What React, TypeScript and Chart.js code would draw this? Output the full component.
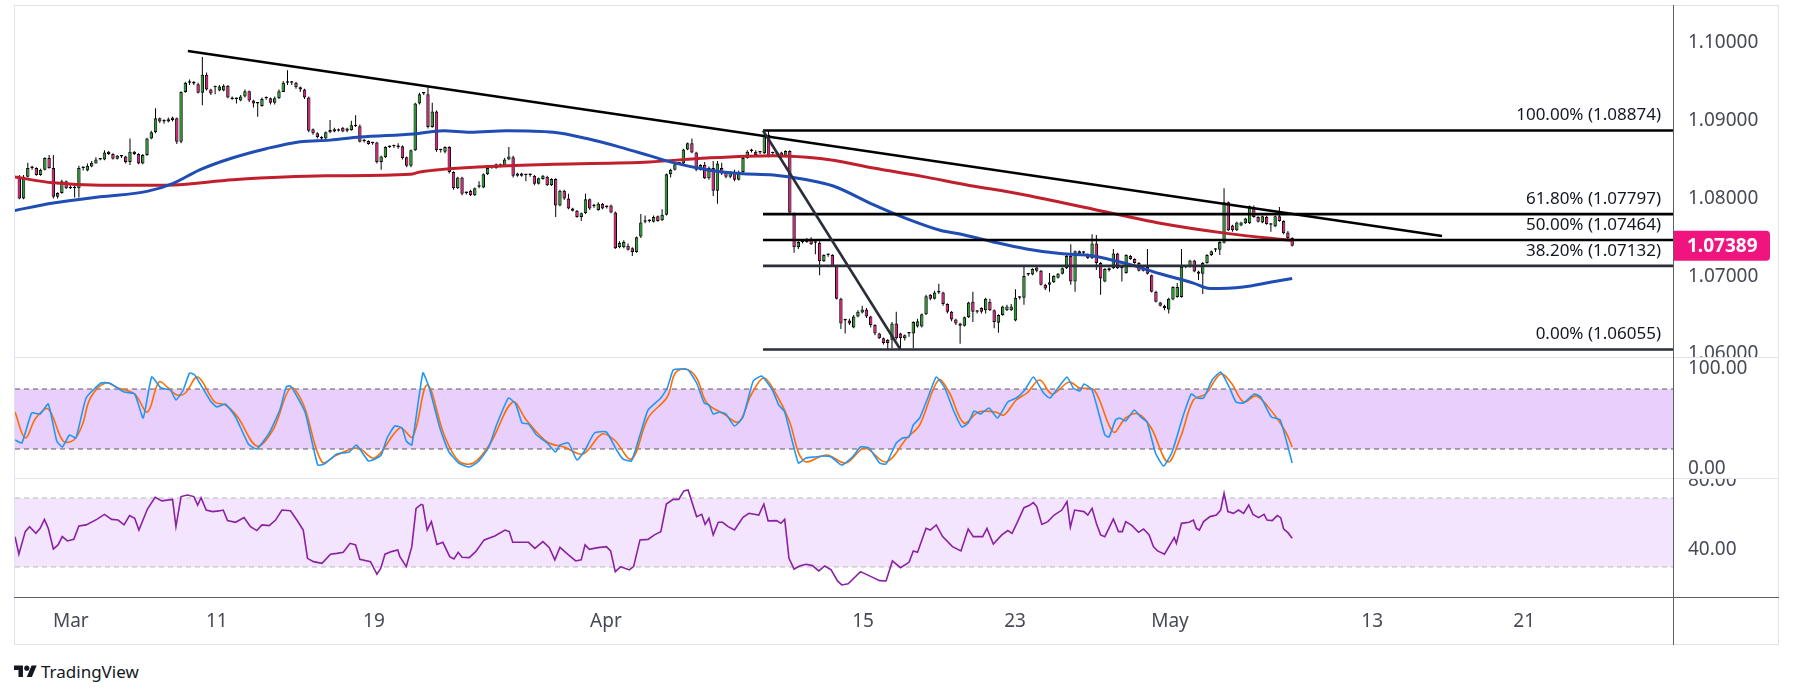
import React, { useEffect, useRef } from "react";
import { Chart, registerables } from "chart.js";

Chart.register(...registerables);

const FAMILY = '"Noto Sans", "DejaVu Sans", sans-serif';
const AXIS_TEXT = "#474a55";
const UP = "#22a02a";
const DOWN = "#ee1680";
const TAG = "#f0147e";
const AXIS_W = 105;

// x units = 4H candle slots (0 = first candle on the chart)
const X_MIN = -1.01;
const X_MAX = 388.46;
const xTickPos = [12.1, 46.4, 83.3, 137.8, 198.2, 233.9, 270.3, 317.8, 353.5];
const xTickLabels = ["Mar", "11", "19", "Apr", "15", "23", "May", "13", "21"];

// EURUSD 4H candles, in pips above 1.0000 (price = 1 + v / 10000)
const opens = [
  828,800,828,839,839,830,837,852,839,802, 807,822,813,813,813,839,836,841,845,850,
  850,860,857,851,854,854,847,860,857,845, 856,877,885,903,899,899,904,903,873,937,
  949,948,947,936,959,940,943,939,939,945, 930,928,926,931,938,926,922,919,929,929,
  923,929,937,949,949,949,943,940,930,889, 884,877,877,885,886,887,891,887,888,894,
  893,874,874,871,872,847,853,866,867,867, 867,853,842,862,922,935,934,892,912,862,
  860,866,834,813,827,807,810,804,815,814, 831,841,839,844,842,850,853,829,832,830,
  830,829,819,825,828,817,825,791,810,800, 787,784,776,781,799,790,785,793,789,791,
  782,737,737,739,736,731,751,770,771,770, 777,772,779,831,837,845,845,863,871,859,
  837,843,826,839,810,839,834,828,834,824, 834,852,861,860,859,858,882,858,857,859,
  854,861,781,737,744,744,747,743,743,719, 727,727,713,671,643,643,634,648,653,657,
  648,637,626,620,618,618,639,626,620,626, 626,635,635,651,676,671,679,679,664,654,
  644,639,636,647,667,654,659,656,667,656, 640,650,656,656,643,672,672,702,702,711,
  707,689,689,692,698,703,710,726,693,732, 730,728,723,742,717,693,708,710,729,710,
  704,726,722,717,707,712,701,680,666,662, 657,670,673,673,712,712,720,706,703,717,
  727,734,734,743,795,765,759,765,768,768, 789,776,769,776,766,764,777,771,756,749,
];
const highs = [
  830,830,846,842,840,838,853,856,856,808, 824,823,817,817,842,841,845,848,853,852,
  862,861,858,856,856,855,877,861,858,857, 878,887,916,904,902,904,905,904,938,950,
  953,951,949,982,962,941,945,946,947,946, 931,930,933,940,939,927,924,930,931,930,
  931,940,951,965,951,950,944,941,931,890, 885,880,886,901,891,890,892,891,900,907,
  895,876,875,873,873,855,867,868,869,871, 868,854,863,923,936,937,944,923,913,864,
  867,867,835,828,828,809,811,814,822,832, 840,843,845,845,852,866,855,833,833,831,
  832,830,827,830,829,826,826,811,811,806, 788,785,782,806,800,793,795,794,791,792,
  783,745,746,742,737,751,780,778,773,778, 778,786,832,838,845,847,864,872,877,860,
  844,847,841,848,848,846,835,835,837,836, 854,862,864,862,860,888,887,860,860,860,
  862,862,782,745,746,749,750,745,745,728, 729,728,714,672,645,645,650,656,662,659,
  649,638,627,621,619,641,654,627,625,628, 642,645,652,676,677,681,690,680,665,655,
  645,640,648,667,680,656,660,672,671,657, 651,662,663,664,683,674,712,704,710,712,
  708,690,704,701,704,711,727,741,733,733, 732,729,754,753,718,710,711,735,730,712,
  728,727,723,718,712,735,702,681,667,663, 672,687,691,735,714,721,721,707,718,728,
  733,736,745,813,796,766,770,770,775,791, 791,777,778,778,768,778,789,772,758,750,
];
const lows = [
  799,799,827,837,829,829,836,838,800,800, 806,812,812,801,801,836,835,840,845,849,
  849,856,850,850,852,845,843,856,844,844, 855,876,884,897,896,898,899,870,871,936,
  946,946,935,920,939,933,934,938,938,929, 927,922,925,930,924,917,905,918,927,921,
  921,928,937,946,946,941,937,928,885,882, 877,875,876,884,885,886,885,885,887,892,
  872,872,869,869,845,837,852,865,865,864, 850,840,840,861,921,933,890,891,860,859,
  858,832,811,812,804,805,803,803,813,813, 830,838,838,840,841,849,827,828,828,822,
  828,817,818,824,816,816,776,790,798,786, 783,775,771,780,785,788,784,786,787,781,
  735,736,736,733,726,730,749,768,769,769, 770,771,778,827,836,843,844,862,858,835,
  836,825,824,803,793,830,826,826,822,823, 833,851,859,855,857,857,853,854,856,852,
  853,780,730,735,742,743,740,728,701,718, 725,712,670,632,626,637,633,647,652,646,
  634,624,619,612,606,607,618,605,617,622, 607,634,634,650,669,670,677,662,652,642,
  637,613,635,646,641,652,652,652,655,633, 627,649,655,655,642,670,663,700,701,705,
  688,682,680,691,697,702,709,689,680,728, 728,722,722,708,676,692,706,709,709,693,
  703,721,716,706,706,702,679,666,661,656, 652,669,672,672,710,711,705,695,677,716,
  726,731,727,742,758,757,758,764,767,767, 775,769,768,766,757,763,770,754,748,738,
];
const closes = [
  800,828,839,839,830,837,852,839,802,807, 822,813,815,815,839,839,842,846,850,850,
  859,857,851,855,854,847,860,857,845,856, 877,885,903,899,899,902,901,873,937,949,
  949,948,936,959,940,935,943,944,945,930, 928,928,931,938,926,922,922,928,929,923,
  929,938,949,949,949,943,940,930,887,884, 879,878,885,888,889,888,886,890,894,893,
  873,874,870,872,847,854,866,867,867,866, 852,842,862,922,934,935,892,912,862,862,
  866,834,813,827,806,807,804,813,815,831, 839,841,844,842,850,854,829,832,829,830,
  830,819,826,829,817,825,791,810,800,787, 784,776,781,799,787,790,793,787,789,782,
  736,743,744,734,731,750,769,770,771,776, 771,779,831,837,844,845,863,871,859,837,
  843,826,839,810,845,832,828,833,824,834, 852,860,861,856,859,882,855,858,859,854,
  861,782,737,744,744,747,741,743,719,727, 727,713,671,639,643,639,648,654,657,648,
  637,626,620,614,614,639,620,620,624,626, 641,642,651,674,671,679,679,664,654,644,
  639,636,647,666,654,654,654,671,656,641, 650,661,661,661,672,672,700,702,709,707,
  689,684,692,700,703,710,726,693,732,729, 730,723,742,717,697,709,710,729,710,710,
  727,722,717,707,711,703,680,667,662,659, 671,686,686,712,712,720,706,703,717,727,
  732,734,744,795,759,759,769,769,774,790, 776,770,777,767,767,777,771,755,749,739,
];

// Moving averages (pips above 1.0000), read at vertices
const blueMaX = [-1.5, 8, 19, 30, 36, 42.5, 50, 58, 66, 73, 80, 92.6, 99.6, 105.9, 114.5, 125.5, 133.3, 141.1, 148, 153.6, 161.5, 169.3, 177.1, 185, 191.2, 200.6, 208.4, 216.3, 222, 228.8, 236.6, 244.5, 252.3, 260.1, 268, 275.8, 279.7, 287.5, 293.8, 299];
const blueMa = [784, 794, 802, 809, 819, 837, 852, 864, 873, 875, 879, 883, 887, 885, 887, 885, 877, 866, 855, 846, 837, 832, 830, 824, 816, 792, 774, 759, 753, 744, 735, 729, 726, 716, 703, 691, 684, 686, 692, 697];
const redMaX = [-1.5, 8, 19, 34.6, 50.3, 72, 91.8, 94.1, 109.8, 125.5, 148, 161.5, 177.1, 185, 191.2, 200.6, 212.4, 222, 236.6, 252.3, 268, 283.6, 299];
const redMa = [828, 820, 817, 817, 824, 829, 831, 834, 841, 844, 847, 852, 855, 853, 849, 839, 828, 818, 804, 786, 768, 755, 746];

// Trend lines [x, price]
const trendMainX = [39.6, 334.2];
const trendMainY = [1.09897, 1.07516];
const trendSteepX = [174.7, 206.9];
const trendSteepY = [1.08874, 1.06062];

// Fibonacci retracement
const fibStartX = 174.7;
const fibLevels = [1.08874, 1.07797, 1.07464, 1.07132, 1.06055];
const fibPct = [100, 61.8, 50, 38.2, 0];
const fibColors = ["#000000", "#000000", "#000000", "#2a2e39", "#2a2e39"];
const lastPrice = 1.07389;

const priceTicks = [1.06, 1.07, 1.08, 1.09, 1.1];
const stochTicks = [0, 100];
const rsiTicks = [40, 80];

// Stochastic %K / %D
const stochKX = [-1, 0.6, 2.9, 4.9, 6.8, 8.8, 10.1, 11.8, 13.3, 15.7, 19.2, 21.2, 24.6, 27.1, 29.1, 31.1, 33.3, 35.5, 36.8, 38.5, 40, 41.2, 44.9, 46.4, 48.4, 50.8, 53.8, 55.8, 58.7, 61.2, 62.7, 63.7, 65.7, 67.2, 70.1, 71.6, 74.6, 77.5, 79.2, 82, 83.5, 85, 86.4, 88.2, 89.9, 90.9, 92.2, 94.8, 96.3, 98.8, 100.8, 103.2, 105.7, 107.7, 110.2, 112.1, 114.9, 116.6, 118.1, 119.6, 121.5, 124, 126, 127, 129, 131, 132.9, 135.1, 137.9, 140.3, 141.8, 143.8, 145.8, 147.7, 150.7, 152.2, 153.6, 155.1, 157.1, 159.1, 160.9, 162, 163, 164.5, 166, 168, 170, 172.4, 174.4, 176.9, 178.4, 179.8, 183, 184.8, 186.8, 188.7, 190.7, 193.2, 195.7, 197.6, 199.6, 202.1, 203.6, 206, 207.5, 209, 210, 211.5, 213.5, 215.4, 217.4, 219.4, 221.4, 222.9, 224.3, 225.8, 227.8, 229.8, 232.2, 234.2, 236.2, 238.2, 240.6, 242.1, 246.1, 247.6, 249.1, 250.1, 252, 255, 256, 257.5, 258.5, 259.9, 261.9, 263.4, 264.9, 266.9, 268.8, 270.8, 273.3, 275.3, 276.7, 278.2, 280.2, 282.2, 284.2, 285.8, 287.6, 290.1, 291.6, 294.1, 296.2, 299];
const stochK = [29, 26, 56, 55, 65, 28, 22, 34, 31, 71, 86, 86, 77, 75, 51, 92, 81, 79, 69, 79, 96, 94, 68, 62, 65, 52, 25, 20, 36, 59, 82, 83, 69, 56, 4, 5, 15, 17, 24, 8, 10, 14, 31, 43, 41, 28, 24, 96, 81, 41, 18, 6, 2, 7, 21, 44, 71, 65, 46, 45, 34, 26, 17, 24, 26, 9, 19, 36, 37, 19, 10, 8, 34, 59, 71, 81, 99, 100, 99, 86, 66, 64, 55, 57, 55, 43, 52, 88, 93, 79, 64, 57, 6, 11, 12, 13, 12, 4, 12, 22, 21, 6, 5, 26, 31, 32, 44, 51, 72, 92, 81, 59, 42, 46, 58, 55, 61, 51, 67, 71, 79, 92, 76, 71, 92, 81, 78, 85, 79, 34, 32, 49, 51, 48, 59, 52, 47, 16, 3, 17, 52, 75, 71, 71, 89, 97, 82, 67, 66, 75, 72, 52, 49, 6];
const stochDX = [-1, 1.4, 3.9, 6.8, 10.3, 12.8, 14.8, 16.7, 20.2, 23.2, 27.1, 30.1, 32.8, 35, 37, 39, 41.9, 45.9, 48.4, 51.3, 55.8, 59.7, 63.7, 66.7, 71.1, 74.6, 79.5, 83.5, 89.4, 92.4, 95.8, 99.8, 103.2, 106.7, 110.7, 115.9, 119.1, 124, 128, 132.4, 136.9, 139.8, 143.8, 147.7, 152.2, 154.1, 156.6, 159.1, 161.5, 165.5, 169, 171.9, 174.9, 177.9, 180.8, 184.3, 189.7, 194.2, 198.6, 203.6, 208.5, 211.5, 215.9, 218.4, 221.9, 225.3, 229.3, 231.3, 234.2, 236.7, 239.7, 242.6, 246.6, 249.1, 252.5, 257, 259.9, 262.9, 265.9, 269.8, 272.8, 275.8, 278.7, 282.2, 284.7, 287.6, 290.6, 294.5, 297.5, 299];
const stochD = [57, 31, 51, 60, 28, 29, 44, 71, 86, 81, 75, 57, 87, 81, 74, 76, 92, 67, 64, 52, 23, 40, 81, 65, 7, 14, 21, 11, 41, 32, 84, 34, 8, 6, 26, 67, 49, 27, 22, 15, 35, 29, 10, 51, 72, 96, 100, 91, 66, 55, 47, 74, 91, 74, 49, 8, 14, 6, 21, 7, 31, 44, 89, 77, 46, 57, 57, 54, 69, 76, 89, 75, 87, 81, 79, 37, 51, 55, 41, 7, 32, 69, 75, 95, 86, 67, 73, 56, 37, 22];

// RSI
const rsiX = [-1, -0.1, 1.4, 2.4, 3.9, 4.9, 5.9, 6.8, 8, 9.1, 10.1, 11.3, 12.8, 14, 15.7, 18.2, 20, 21.7, 23.2, 24.6, 25.9, 27.1, 28.1, 30.1, 31.9, 33.5, 36, 36.8, 38, 39.5, 41, 41.9, 42.7, 43.9, 45.4, 46.9, 47.9, 48.9, 50.8, 52.8, 54.3, 55.8, 57, 58.7, 60.2, 61.7, 63.7, 65.2, 66.7, 67.7, 69.1, 71.1, 73.1, 74.6, 76.1, 77.7, 79, 80, 82.5, 84, 84.9, 85.9, 87.4, 88.9, 89.4, 90.9, 92.2, 93.2, 94.4, 94.8, 95.8, 96.8, 98.1, 99.5, 101.1, 102.1, 103.1, 104, 105.7, 107.2, 109.2, 111.7, 114.1, 115.1, 115.9, 119.6, 121.1, 123, 124.5, 125.8, 127, 129, 130.7, 132, 132.9, 133.9, 135.9, 137.9, 138.9, 140, 141.3, 143.3, 144.3, 145.8, 147.7, 149.2, 150.7, 152, 153.6, 154.9, 156.1, 157.1, 159.1, 160.3, 161.1, 162, 163, 164.2, 165.2, 166.5, 168, 170, 171.4, 173.7, 174.9, 175.9, 177.9, 178.9, 179.8, 180.8, 182, 183.3, 184.8, 186.3, 187.8, 189.2, 190.7, 192.2, 193.2, 194.7, 197.6, 200.1, 202.1, 203.6, 205.1, 207, 209, 210, 211, 213, 214, 215.4, 216.9, 219.2, 221.2, 222.9, 224.1, 226.3, 227.3, 228.8, 230.8, 232.2, 233.2, 234.4, 236, 237.2, 238.2, 239, 240.2, 241.6, 243.1, 244.9, 246.1, 246.9, 247.9, 250.1, 251, 252, 253, 254, 255, 257, 258.2, 259.1, 259.9, 261.4, 262.9, 264.1, 265.4, 266.4, 267.4, 269, 271.3, 271.8, 273, 274.8, 275.8, 276.5, 277.2, 278.2, 279.7, 281.2, 282.2, 283, 283.9, 285.2, 286.4, 287.6, 288.8, 289.8, 291.1, 292.4, 293.1, 294.3, 295.5, 296.3, 297, 298, 299];
const rsi = [47.6, 37.4, 50.5, 53.4, 49.5, 52.4, 57.6, 52.4, 40.4, 42.8, 47.6, 45.1, 46, 53.8, 54.4, 57.6, 60.5, 57.6, 57.2, 54.4, 59.8, 58.2, 51.4, 63.6, 70.4, 68.3, 69.2, 53.4, 70.8, 71.7, 70.8, 65.9, 70.2, 63, 62.1, 62.5, 63, 56.9, 55.9, 58.6, 53.4, 51.1, 54.4, 54, 57.2, 63, 62.6, 57.2, 51.4, 35, 33.1, 32.1, 37.4, 37.9, 38.5, 43.7, 42.8, 34.4, 33.1, 25.8, 29.2, 37.4, 38.9, 39.9, 36, 30.2, 41.8, 64, 66.3, 65.9, 51.4, 56.3, 43.1, 44.3, 36, 34.6, 38.5, 35.6, 35.4, 38.9, 45.7, 48, 51.4, 50.5, 44.3, 44.3, 40.8, 44.7, 41.2, 34.1, 41.4, 37, 33.5, 34.1, 42.8, 40.2, 41.2, 41.8, 39.3, 27.3, 30.2, 28.3, 30.2, 45.7, 46, 48.6, 50.5, 66.5, 69.2, 69.2, 74.1, 74.6, 59.2, 60.5, 54.7, 58.2, 48.6, 55.9, 55.9, 53.4, 51.4, 58.8, 61.1, 60.1, 66.5, 56.7, 56.9, 55.3, 57.6, 35, 28.8, 30.6, 31.6, 30.8, 27.7, 30.6, 28.3, 21.9, 19.6, 20.3, 27.3, 24.4, 22.1, 21.9, 33.5, 29.6, 32.7, 39.3, 38.5, 52.4, 51.4, 54.4, 47.6, 41.8, 39.3, 52, 47.6, 47.6, 52.4, 43.3, 48.6, 51.1, 49.5, 55.7, 64.4, 65.6, 67.3, 65, 54.7, 56.3, 60.1, 63, 67.9, 53, 63, 62.1, 60.1, 64, 55.3, 48.6, 47.6, 57.8, 50.5, 50.5, 56.3, 54, 50.1, 52, 48.6, 41.8, 39.3, 37.4, 47, 43.7, 55.3, 55.9, 57.2, 52.4, 51.4, 56.3, 59.2, 60.1, 63, 72.7, 62.1, 61.1, 63, 61.1, 65.9, 60.5, 58.6, 60.5, 57.2, 56.9, 59.8, 58.6, 52, 49.9, 46.6];

const toPrice = (v: number) => 1 + v / 10000;
const zip = (xs: number[], ys: number[], f: (v: number) => number = (v) => v) =>
  xs.slice(0, Math.min(xs.length, ys.length)).map((x, i) => ({ x, y: f(ys[i]) }));

function xScale(display: boolean) {
  return {
    type: "linear",
    min: X_MIN,
    max: X_MAX,
    offset: false,
    display,
    grid: { display: false, drawTicks: false },
    border: { display: false },
    afterBuildTicks: (s: any) => {
      s.ticks = xTickPos.map((v) => ({ value: v }));
    },
    afterFit: (s: any) => {
      if (display) s.height = 47;
      s.paddingLeft = 0;
      s.paddingRight = 0;
    },
    ticks: {
      autoSkip: false,
      maxRotation: 0,
      minRotation: 0,
      padding: 13,
      color: AXIS_TEXT,
      font: { family: FAMILY, size: 19 },
      callback: (_v: any, i: number) => xTickLabels[i],
    },
  };
}

function yScale(min: number, max: number, ticks: number[], digits: number) {
  return {
    position: "right",
    min,
    max,
    grid: { display: false, drawTicks: false },
    border: { display: false },
    afterBuildTicks: (s: any) => {
      s.ticks = ticks.map((v) => ({ value: v }));
    },
    afterFit: (s: any) => {
      s.width = AXIS_W;
      s.paddingTop = 0;
      s.paddingBottom = 0;
    },
    ticks: {
      autoSkip: false,
      padding: 15,
      color: AXIS_TEXT,
      font: { family: FAMILY, size: 19 },
      callback: (v: any) => Number(v).toFixed(digits),
    },
  };
}

const baseOptions = {
  responsive: false,
  maintainAspectRatio: false,
  animation: false,
  events: [],
  layout: { padding: 0 },
  plugins: { legend: { display: false }, tooltip: { enabled: false } },
};

const fibLabelPlugin = {
  id: "fibLabels",
  afterDatasetsDraw(chart: any) {
    const { ctx, chartArea, scales } = chart;
    ctx.save();
    ctx.font = `17px ${FAMILY}`;
    ctx.fillStyle = "#131722";
    ctx.textAlign = "right";
    ctx.textBaseline = "middle";
    fibLevels.forEach((lv, i) => {
      const y = scales.y.getPixelForValue(lv);
      ctx.fillText(`${fibPct[i].toFixed(2)}% (${lv.toFixed(5)})`, chartArea.right - 12, y - 15);
    });
    ctx.restore();
  },
};

const priceTagPlugin = {
  id: "priceTag",
  afterDraw(chart: any) {
    const { ctx, chartArea, scales } = chart;
    const y = scales.y.getPixelForValue(lastPrice);
    ctx.save();
    ctx.fillStyle = TAG;
    ctx.beginPath();
    if ((ctx as any).roundRect) (ctx as any).roundRect(chartArea.right, y - 15, 97, 30, [0, 4, 4, 0]);
    else ctx.rect(chartArea.right, y - 15, 97, 30);
    ctx.fill();
    ctx.fillStyle = "#ffffff";
    ctx.font = `bold 19px ${FAMILY}`;
    ctx.textAlign = "left";
    ctx.textBaseline = "middle";
    ctx.fillText(lastPrice.toFixed(5), chartArea.right + 14, y + 1);
    ctx.restore();
  },
};

function band(hi: number, lo: number, fillColor: string, dashColor: string) {
  return [
    {
      type: "line",
      data: [{ x: X_MIN, y: hi }, { x: X_MAX, y: hi }],
      borderColor: dashColor,
      borderWidth: 1,
      borderDash: [5, 4],
      pointRadius: 0,
      fill: "+1",
      backgroundColor: fillColor,
      order: 20,
    },
    {
      type: "line",
      data: [{ x: X_MIN, y: lo }, { x: X_MAX, y: lo }],
      borderColor: dashColor,
      borderWidth: 1,
      borderDash: [5, 4],
      pointRadius: 0,
      fill: false,
      order: 19,
    },
  ];
}

export default function App() {
  const priceRef = useRef<HTMLCanvasElement>(null);
  const stochRef = useRef<HTMLCanvasElement>(null);
  const rsiRef = useRef<HTMLCanvasElement>(null);

  useEffect(() => {
    Chart.defaults.font.family = FAMILY;
    const charts: Chart[] = [];

    const wickData = opens.map((_, i) => ({ x: i, y: [toPrice(lows[i]), toPrice(highs[i])] }));
    const bodyData = opens.map((o, i) => ({ x: i, y: [toPrice(o), toPrice(closes[i])] }));
    const bodyColors = opens.map((o, i) => (closes[i] >= o ? UP : DOWN));

    const fibSets = fibLevels.map((lv, i) => ({
      type: "line",
      data: [{ x: fibStartX, y: lv }, { x: X_MAX, y: lv }],
      borderColor: fibColors[i],
      borderWidth: 2.6,
      pointRadius: 0,
      order: 2,
    }));

    const pMax = 1.1 + 37 / 7770;
    const pMin = 1.1 - 314 / 7770;

    if (priceRef.current) {
      charts.push(
        new Chart(priceRef.current, {
          type: "bar",
          data: {
            datasets: [
              {
                type: "bar",
                data: wickData,
                backgroundColor: "#000000",
                barThickness: 1,
                grouped: false,
                minBarLength: 1,
                inflateAmount: 0,
                order: 10,
              },
              {
                type: "bar",
                data: bodyData,
                backgroundColor: bodyColors,
                borderColor: "#000000",
                borderWidth: 1,
                borderSkipped: false,
                barThickness: 3.4,
                grouped: false,
                minBarLength: 1.5,
                inflateAmount: 0,
                order: 9,
              },
              {
                type: "line",
                data: zip(redMaX, redMa, toPrice),
                borderColor: "#c0202c",
                borderWidth: 3,
                pointRadius: 0,
                cubicInterpolationMode: "monotone",
                order: 6,
              },
              {
                type: "line",
                data: zip(blueMaX, blueMa, toPrice),
                borderColor: "#1f4db3",
                borderWidth: 3,
                pointRadius: 0,
                cubicInterpolationMode: "monotone",
                order: 5,
              },
              ...fibSets,
              {
                type: "line",
                data: zip(trendSteepX, trendSteepY),
                borderColor: "#2a2e39",
                borderWidth: 2.6,
                pointRadius: 0,
                order: 1,
              },
              {
                type: "line",
                data: zip(trendMainX, trendMainY),
                borderColor: "#000000",
                borderWidth: 2.6,
                pointRadius: 0,
                order: 1,
              },
            ] as any,
          },
          options: {
            ...baseOptions,
            scales: { x: xScale(false), y: yScale(pMin, pMax, priceTicks, 5) },
          } as any,
          plugins: [fibLabelPlugin, priceTagPlugin],
        })
      );
    }

    if (stochRef.current) {
      charts.push(
        new Chart(stochRef.current, {
          type: "line",
          data: {
            datasets: [
              ...band(80, 20, "#e9cffc", "#5a5a5a"),
              {
                type: "line",
                data: zip(stochDX, stochD),
                borderColor: "#ff6d00",
                borderWidth: 1.6,
                pointRadius: 0,
                tension: 0.35,
                order: 2,
              },
              {
                type: "line",
                data: zip(stochKX, stochK),
                borderColor: "#2196f3",
                borderWidth: 1.6,
                pointRadius: 0,
                tension: 0.15,
                order: 1,
              },
            ] as any,
          },
          options: {
            ...baseOptions,
            scales: { x: xScale(false), y: yScale(-9, 111, stochTicks, 2) },
          } as any,
        })
      );
    }

    if (rsiRef.current) {
      charts.push(
        new Chart(rsiRef.current, {
          type: "line",
          data: {
            datasets: [
              ...band(70, 30, "#f3e5fd", "#b9b9b9"),
              {
                type: "line",
                data: zip(rsiX, rsi),
                borderColor: "#8a21a2",
                borderWidth: 1.6,
                pointRadius: 0,
                tension: 0,
                order: 1,
              },
            ] as any,
          },
          options: {
            ...baseOptions,
            scales: { x: xScale(true), y: yScale(12.6, 81.0, rsiTicks, 2) },
          } as any,
        })
      );
    }

    return () => charts.forEach((c) => c.destroy());
  }, []);

  const line = (style: React.CSSProperties) => (
    <div style={{ position: "absolute", ...style }} />
  );

  return (
    <div
      style={{
        position: "fixed",
        left: 0,
        top: 0,
        width: 1793,
        height: 698,
        background: "#ffffff",
        overflow: "hidden",
        fontFamily: FAMILY,
      }}
    >
      <canvas ref={priceRef} width={1763} height={351} style={{ position: "absolute", left: 15, top: 6 }} />
      <canvas ref={stochRef} width={1763} height={120} style={{ position: "absolute", left: 15, top: 358 }} />
      <canvas ref={rsiRef} width={1763} height={165} style={{ position: "absolute", left: 15, top: 479 }} />

      {line({ left: 14, top: 5, width: 1765, height: 640, border: "1px solid #e0e3eb", boxSizing: "border-box" })}
      {line({ left: 14, top: 357, width: 1765, height: 1, background: "#e0e3eb" })}
      {line({ left: 14, top: 478, width: 1765, height: 1, background: "#e0e3eb" })}
      {line({ left: 14, top: 597, width: 1765, height: 1, background: "#5d606b" })}
      {line({ left: 1673, top: 5, width: 1, height: 640, background: "#5d606b" })}

      <div style={{ position: "absolute", left: 14, top: 661, display: "flex", alignItems: "center", color: "#131722" }}>
        <svg width="23" height="18" viewBox="0 0 36 28">
          <path d="M14 22H7V11H0V4h14v18z" fill="#131722" />
          <circle cx="20" cy="8" r="4" fill="#131722" />
          <path d="M28 22h-8l7.5-18h8L28 22z" fill="#131722" />
        </svg>
        <span style={{ marginLeft: 4, fontSize: 17, lineHeight: "22px" }}>TradingView</span>
      </div>
    </div>
  );
}
